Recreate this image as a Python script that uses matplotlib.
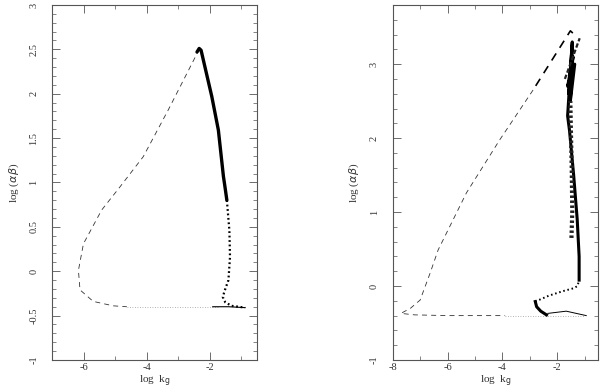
import numpy as np
import matplotlib.pyplot as plt
from matplotlib.ticker import MultipleLocator, FormatStrFormatter

plt.rcParams['font.family'] = ['Liberation Serif', 'DejaVu Serif']

# ---- left panel data ----
dash_l_x = [-2.33, -3.31, -4.11, -4.85, -5.43, -6.01, -6.17, -6.12, -5.70, -5.06, -4.63]
dash_l_y = [2.50, 1.82, 1.29, 0.95, 0.69, 0.31, 0.01, -0.21, -0.34, -0.39, -0.40]
flat_l_x = [-4.63, -3.5, -2.5, -1.7]
flat_l_y = [-0.40, -0.40, -0.40, -0.40]
thick_l_x = [-2.40, -2.33, -2.27, -1.93, -1.72, -1.56, -1.51, -1.45]
thick_l_y = [2.47, 2.51, 2.49, 1.97, 1.59, 1.07, 0.95, 0.80]
dot_l_x = [-1.45, -1.37, -1.35, -1.40, -1.52, -1.58, -1.50, -1.30, -0.87]
dot_l_y = [0.80, 0.46, 0.16, -0.10, -0.22, -0.29, -0.35, -0.39, -0.41]
thin_l_x = [-1.90, -1.40, -0.87]
thin_l_y = [-0.40, -0.40, -0.41]

# ---- right panel data ----
dash_r_top_x = [-1.43, -1.52, -2.20, -2.88]
dash_r_top_y = [3.42, 3.45, 3.05, 2.65]
dash_r_x = [-2.88, -4.09, -5.31, -6.34, -6.64, -7.00, -7.35, -7.70, -7.2, -6.0, -4.8, -3.9]
dash_r_y = [2.65, 1.98, 1.26, 0.49, 0.17, -0.19, -0.30, -0.37, -0.39, -0.40, -0.40, -0.40]
flat_r_x = [-3.9, -3.0, -2.0, -1.0]
flat_r_y = [-0.40, -0.40, -0.40, -0.40]
loop_r_x = [-2.39, -2.60, -2.75, -2.80]
loop_r_y = [-0.39, -0.34, -0.28, -0.21]
dot_r_x = [-2.80, -2.30, -1.80, -1.40, -1.26, -1.20]
dot_r_y = [-0.21, -0.13, -0.07, -0.03, 0.00, 0.08]
thick_r_x = [-1.20, -1.20, -1.27, -1.40, -1.55, -1.62, -1.45, -1.58, -1.42, -1.62, -1.36, -1.52, -1.45]
thick_r_y = [0.08, 0.40, 0.90, 1.50, 2.10, 2.30, 3.30, 2.60, 3.10, 2.70, 3.00, 2.50, 3.20]
col_r_x = [-1.48, -1.45, -1.47, -1.50, -1.52]
col_r_y = [0.65, 1.00, 1.60, 2.10, 2.50]
diag_r_x = [-1.72, -1.18]
diag_r_y = [2.80, 3.35]
thin_r_x = [-2.34, -1.67, -0.94]
thin_r_y = [-0.37, -0.34, -0.40]

frame = '#555555'

fig = plt.figure(figsize=(6, 3.88), dpi=100)
ax1 = fig.add_axes([0.0872, 0.0722, 0.3407, 0.915])
ax2 = fig.add_axes([0.6545, 0.0722, 0.3427, 0.915])


def style(ax, xlim, ylim, xmaj, ymaj, ymin):
    ax.set_xlim(*xlim)
    ax.set_ylim(*ylim)
    ax.xaxis.set_major_locator(MultipleLocator(xmaj))
    ax.xaxis.set_minor_locator(MultipleLocator(1))
    ax.yaxis.set_major_locator(MultipleLocator(ymaj))
    ax.yaxis.set_minor_locator(MultipleLocator(ymin))
    ax.xaxis.set_major_formatter(FormatStrFormatter('%g'))
    ax.yaxis.set_major_formatter(FormatStrFormatter('%g'))
    ax.tick_params(which='both', direction='in', top=True, right=True,
                   color=frame, labelcolor='#333333', labelsize=7.5)
    ax.tick_params(which='major', length=6, width=0.6)
    ax.tick_params(which='minor', length=3, width=0.5)
    ax.tick_params(axis='y', pad=10, labelrotation=90)
    ax.tick_params(axis='x', pad=2)
    for lab in ax.get_yticklabels():
        lab.set_va('center')
    for s in ax.spines.values():
        s.set_color(frame)
        s.set_linewidth(0.8)
    ax.set_xlabel('log  k$_{\\rm g}$', fontsize=8, color='#333333', labelpad=1)
    ax.set_ylabel('log ($\\alpha\\beta$)', fontsize=8, color='#333333', labelpad=6)


# left panel
ax1.plot(dash_l_x, dash_l_y, color='#333333', lw=0.6, dashes=(6, 5))
ax1.plot(flat_l_x, flat_l_y, color='#999999', lw=0.6, dashes=(1, 2))
ax1.plot(thick_l_x, thick_l_y, color='black', lw=2.4, solid_capstyle='round')
ax1.plot(dot_l_x, dot_l_y, color='black', lw=1.6, dashes=(0.8, 1.2))
ax1.plot(thin_l_x, thin_l_y, color='black', lw=0.8)
style(ax1, (-7, -0.5), (-1, 3), 2, 0.5, 0.1)

# right panel
ax2.plot(dash_r_top_x, dash_r_top_y, color='black', lw=1.2, dashes=(5, 4))
ax2.plot(dash_r_x, dash_r_y, color='#333333', lw=0.6, dashes=(6, 5))
ax2.plot(flat_r_x, flat_r_y, color='#999999', lw=0.6, dashes=(1, 2))
ax2.plot(loop_r_x, loop_r_y, color='black', lw=2.2)
ax2.plot(dot_r_x, dot_r_y, color='black', lw=1.4, dashes=(0.8, 1.4))
ax2.plot(thick_r_x, thick_r_y, color='black', lw=2.2)
ax2.plot(col_r_x, col_r_y, color='#222222', lw=3.0, dashes=(0.6, 0.6))
ax2.plot(diag_r_x, diag_r_y, color='#222222', lw=1.6, dashes=(2, 1))
ax2.plot(thin_r_x, thin_r_y, color='black', lw=0.7)
style(ax2, (-8, -0.5), (-1, 3.8), 2, 1, 0.2)

fig.savefig('out.png', dpi=100)
